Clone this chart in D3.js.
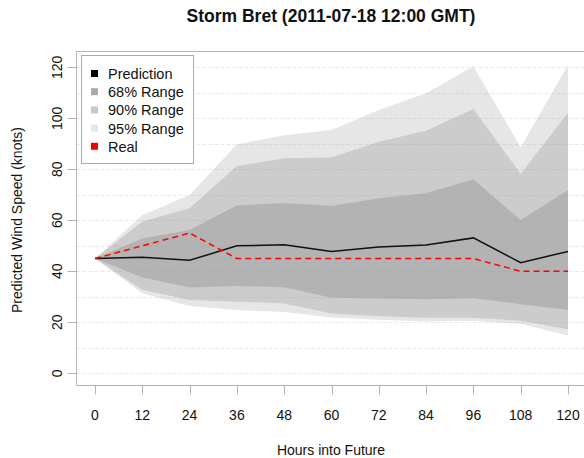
<!DOCTYPE html>
<html lang="en">
<head>
<meta charset="UTF-8">
<title>Storm Bret</title>
<script src="https://d3js.org/d3.v7.min.js"></script>
<style>
  body { margin: 0; background: #fff; }
  text { font-family: "Liberation Sans", Arial, sans-serif; fill: #111; }
</style>
</head>
<body>
<svg class="chart"></svg>
<script>
// Data
const hours = [0, 12, 24, 36, 48, 60, 72, 84, 96, 108, 120];
const prediction = [45, 45.5, 44.3, 50, 50.4, 47.8, 49.5, 50.3, 53.1, 43.4, 47.8];
const real = [45, 50, 55, 45, 45, 45, 45, 45, 45, 40, 40];
const lo68 = [45, 37.6, 33.6, 34.2, 33.7, 29.6, 29.3, 29.0, 29.4, 27.1, 24.8];
const hi68 = [45, 52.9, 56.2, 65.8, 66.8, 65.6, 68.6, 70.6, 76.1, 60.1, 71.9];
const lo90 = [45, 32.8, 28.7, 28.1, 27.4, 23.5, 22.4, 21.8, 21.8, 20.6, 17.3];
const hi90 = [45, 59.5, 64.7, 81.3, 84.3, 84.6, 90.8, 95.1, 103.6, 78.2, 102.2];
const lo95 = [45, 31.4, 26.4, 24.8, 24.0, 21.9, 21.0, 20.3, 20.6, 19.4, 14.8];
const hi95 = [45, 62, 69.9, 89.8, 93.4, 95.4, 103.3, 109.8, 120.3, 88.6, 120.9];
const yTicks = [0, 20, 40, 60, 80, 100, 120];
const gridVals = d3.range(0, 121, 10);
const legendLabels = ["Prediction", "68% Range", "90% Range", "95% Range", "Real"];
const legendColors = ["#000000", "#aaaaaa", "#c8c8c8", "#e6e6e6", "#ff0000"];

const W = 584, H = 458;
const box = { left: 76.5, top: 51.5, bottom: 385.5 };

const svg = d3.select(".chart").attr("width", W).attr("height", H);

const x = d3.scaleLinear().domain([0, 120]).range([95, 568]);
const y = d3.scaleLinear().domain([0, 120]).range([373.3, 67.3]);

// bands
const band = (lo, hi) => d3.area()
  .x((d, i) => x(hours[i]))
  .y0((d, i) => y(lo[i]))
  .y1((d, i) => y(hi[i]))(hours);

svg.append("path").attr("d", band(lo95, hi95)).attr("fill", "#e6e6e6");
svg.append("path").attr("d", band(lo90, hi90)).attr("fill", "#cccccc");
svg.append("path").attr("d", band(lo68, hi68)).attr("fill", "#b3b3b3");

// dashed grid on top
svg.append("g").selectAll("line")
  .data(gridVals)
  .join("line")
  .attr("x1", box.left).attr("x2", W)
  .attr("y1", d => Math.round(y(d)) + 0.5).attr("y2", d => Math.round(y(d)) + 0.5)
  .attr("stroke", "#999")
  .attr("stroke-opacity", 0.22)
  .attr("stroke-dasharray", "4,2");

const line = vals => d3.line()
  .x((d, i) => x(hours[i]))
  .y((d, i) => y(vals[i]))(hours);

svg.append("path").attr("d", line(prediction))
  .attr("fill", "none").attr("stroke", "#111").attr("stroke-width", 1.5);
svg.append("path").attr("d", line(real))
  .attr("fill", "none").attr("stroke", "#ff0000").attr("stroke-width", 1.5)
  .attr("stroke-dasharray", "6,4");

// plot box (right side falls outside the window)
svg.append("path")
  .attr("d", `M${W + 5},${box.top}H${box.left}V${box.bottom}H${W + 5}`)
  .attr("fill", "none").attr("stroke", "#b5b5b5").attr("stroke-width", 1);

// x axis
const xAxis = svg.append("g");
xAxis.selectAll("line").data(hours).join("line")
  .attr("x1", d => Math.round(x(d)) + 0.5).attr("x2", d => Math.round(x(d)) + 0.5)
  .attr("y1", box.bottom).attr("y2", box.bottom + 9)
  .attr("stroke", "#b5b5b5");
xAxis.selectAll("text").data(hours).join("text")
  .attr("x", d => x(d)).attr("y", 420)
  .attr("text-anchor", "middle").attr("font-size", 14)
  .text(d => d);

// y axis
const yAxis = svg.append("g");
yAxis.selectAll("line").data(yTicks).join("line")
  .attr("x1", box.left - 9).attr("x2", box.left)
  .attr("y1", d => Math.round(y(d)) + 0.5).attr("y2", d => Math.round(y(d)) + 0.5)
  .attr("stroke", "#b5b5b5");
yAxis.selectAll("text").data(yTicks).join("text")
  .attr("transform", d => `translate(62,${y(d)}) rotate(-90)`)
  .attr("text-anchor", "middle").attr("font-size", 14)
  .text(d => d);

// titles
svg.append("text").attr("x", 331).attr("y", 22)
  .attr("text-anchor", "middle").attr("font-size", 17.5).attr("font-weight", "bold")
  .text("Storm Bret (2011-07-18 12:00 GMT)");
svg.append("text").attr("x", 331).attr("y", 455)
  .attr("text-anchor", "middle").attr("font-size", 14)
  .text("Hours into Future");
svg.append("text").attr("transform", "translate(22,220) rotate(-90)")
  .attr("text-anchor", "middle").attr("font-size", 14)
  .text("Predicted Wind Speed (knots)");

// legend
const lg = svg.append("g");
lg.append("rect").attr("x", 81.5).attr("y", 55.5).attr("width", 112).attr("height", 108)
  .attr("fill", "#fff").attr("stroke", "#aaa");
const items = lg.selectAll("g.item").data(legendLabels).join("g")
  .attr("transform", (d, i) => `translate(0,${73.5 + i * 18.2})`);
items.append("rect").attr("x", 91).attr("y", -3.5).attr("width", 7).attr("height", 7)
  .attr("fill", (d, i) => legendColors[i]);
items.append("text").attr("x", 108).attr("y", 5.5).attr("font-size", 14.5)
  .text(d => d);
</script>
</body>
</html>
